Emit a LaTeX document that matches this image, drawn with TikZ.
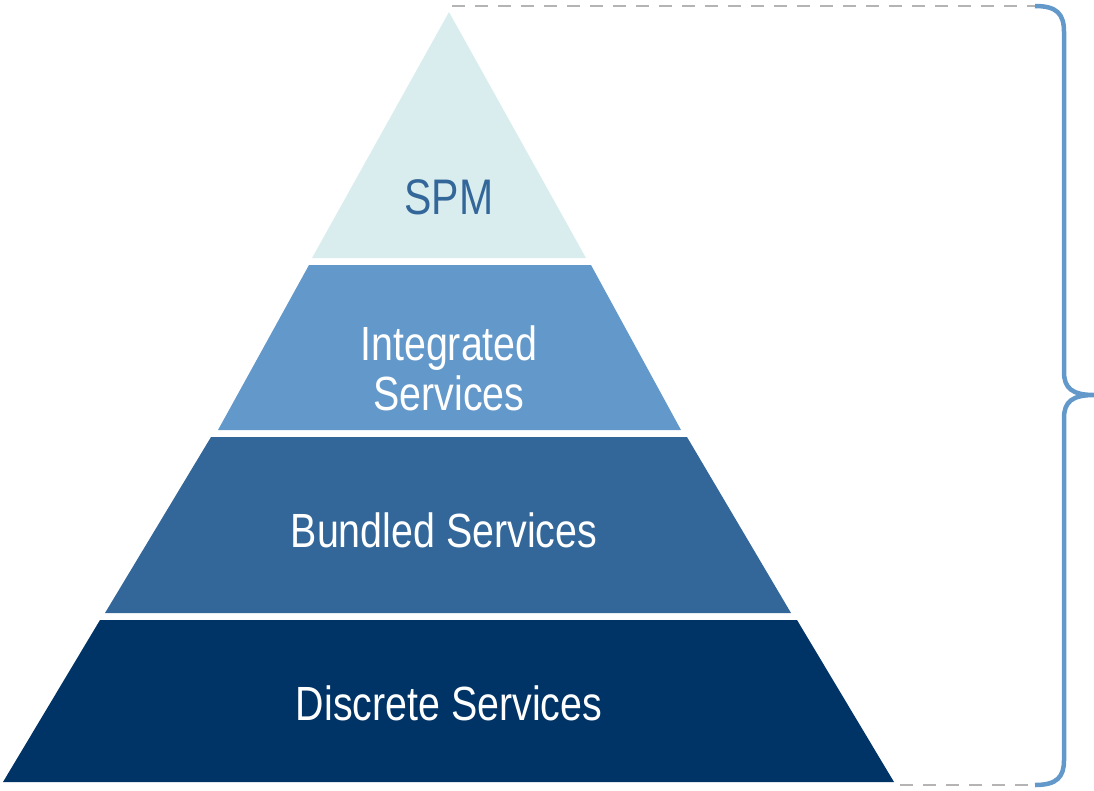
\documentclass[tikz,border=0pt]{standalone}
\usepackage{fontspec}
\setmainfont[FakeStretch=0.82]{Liberation Sans}
\definecolor{spmfill}{HTML}{DAEDEE}
\definecolor{intfill}{HTML}{6398CB}
\definecolor{bunfill}{HTML}{336699}
\definecolor{disfill}{HTML}{003366}
\definecolor{bracecol}{HTML}{6398CB}
\definecolor{dashcol}{HTML}{B4B4B4}
\tikzset{
  layertext/.style={anchor=base, font=\fontsize{48}{50}\selectfont, align=center, inner sep=0pt},
  guide/.style={draw=dashcol, line width=2.5pt, dash pattern=on 13pt off 10pt},
  bracestyle/.style={draw=bracecol, line width=4.5pt, line cap=butt}
}
\begin{document}
\begin{tikzpicture}[x=1pt, y=-1pt]
\useasboundingbox (0,0) rectangle (1094,790);
% layers
\fill[spmfill] (449,12) -- (586,258) -- (312,258) -- cycle;
\fill[intfill] (309,265) -- (591,265) -- (681,430) -- (218,430) -- cycle;
\fill[bunfill] (211,437) -- (687,437) -- (791,613) -- (105,613) -- cycle;
\fill[disfill] (100,620) -- (797,620) -- (894,782) -- (3,782) -- cycle;
% labels
\node[layertext, text=bunfill, font=\fontsize{50}{52}\selectfont] (spm) at (449,214) {SPM};
\node[layertext, text=white] (int1) at (449,360) {Integrated};
\node[layertext, text=white] (int2) at (449,410) {Services};
\node[layertext, text=white] (bun) at (444,547) {Bundled Services};
\node[layertext, text=white] (dis) at (449,720) {Discrete Services};
% guides
\coordinate (gtl) at (452,6);
\coordinate (gtr) at (1035,6);
\coordinate (gbl) at (900,785);
\coordinate (gbr) at (1035,785);
\draw[guide] (gtl) -- (gtr);
\draw[guide] (gbl) -- (gbr);
% brace
\draw[bracestyle] (gtr) .. controls (1057,6) and (1064,14) .. (1064,32)
  -- (1064,372) .. controls (1064,388) and (1072,395) .. (1094,395)
  .. controls (1072,395) and (1064,402) .. (1064,418)
  -- (1064,760) .. controls (1064,777) and (1057,785) .. (gbr);
\end{tikzpicture}
\end{document}
